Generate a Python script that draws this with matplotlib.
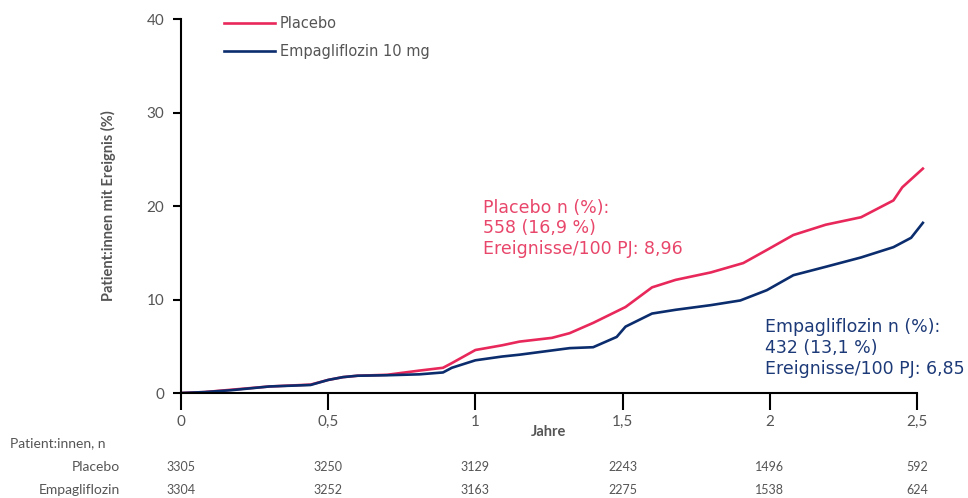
import matplotlib
matplotlib.use('Agg')
import matplotlib.pyplot as plt
import matplotlib.transforms as mtransforms

plt.rcParams['font.family'] = ['Lato', 'DejaVu Sans']

# Kaplan-Meier Verlauf
jahre_placebo = [0, 0.08, 0.17, 0.30, 0.44, 0.50, 0.55, 0.60, 0.70, 0.81, 0.89, 0.92, 1.0, 1.09,
                 1.15, 1.26, 1.32, 1.40, 1.51, 1.60, 1.68, 1.80, 1.91, 1.99, 2.08, 2.19, 2.31,
                 2.42, 2.45, 2.52]
placebo = [0, 0.1, 0.35, 0.7, 0.9, 1.4, 1.7, 1.85, 1.95, 2.4, 2.7, 3.2, 4.6, 5.1,
           5.5, 5.9, 6.4, 7.5, 9.2, 11.3, 12.1, 12.9, 13.9, 15.3, 16.9, 18.0, 18.8,
           20.6, 22.0, 24.0]
jahre_empa = [0, 0.08, 0.17, 0.30, 0.44, 0.50, 0.55, 0.60, 0.70, 0.81, 0.89, 0.92, 1.0, 1.09,
              1.15, 1.32, 1.40, 1.48, 1.51, 1.60, 1.68, 1.80, 1.90, 1.99, 2.08, 2.19, 2.31,
              2.42, 2.48, 2.52]
empa = [0, 0.1, 0.3, 0.7, 0.86, 1.4, 1.7, 1.85, 1.9, 2.0, 2.2, 2.7, 3.5, 3.9,
        4.1, 4.8, 4.9, 6.0, 7.1, 8.5, 8.9, 9.4, 9.9, 11.0, 12.6, 13.5, 14.5,
        15.6, 16.6, 18.2]

# Patient:innen unter Risiko
risk_x = [0, 0.5, 1, 1.5, 2, 2.5]
risk_placebo = [3305, 3250, 3129, 2243, 1496, 592]
risk_empa = [3304, 3252, 3163, 2275, 1538, 624]

xticks = [0, 0.5, 1, 1.5, 2, 2.5]
xtick_labels = ['0', '0,5', '1', '1,5', '2', '2,5']
yticks = [0, 10, 20, 30, 40]

pink = '#E8285A'
navy = '#0B2D6E'
grau = '#555555'
wide = ['DejaVu Sans']

fig = plt.figure(figsize=(9.68, 4.98), dpi=100)
ax = fig.add_axes([0.187, 0.2108, 0.7755, 0.751])

ax.plot(jahre_placebo, placebo, color=pink, lw=1.9, label='Placebo')
ax.plot(jahre_empa, empa, color=navy, lw=1.9, label='Empagliflozin 10 mg')

ax.set_xlim(0, 2.55)
ax.set_ylim(0, 40)
for s in ['top', 'right']:
    ax.spines[s].set_visible(False)
ax.spines['bottom'].set_bounds(0, 2.5)
ax.spines['left'].set_linewidth(1.5)
ax.spines['bottom'].set_linewidth(1.5)

ax.set_xticks(xticks)
ax.set_xticklabels(xtick_labels)
ax.set_yticks(yticks)
ax.tick_params(axis='x', length=12, width=1.5, direction='out', pad=4, colors='black',
               labelcolor=grau, labelsize=11)
ax.tick_params(axis='y', length=6, width=1.5, pad=6, labelcolor=grau, labelsize=11)

ax.set_xlabel('Jahre', fontsize=10.5, fontweight='bold', color=grau)
ax.xaxis.set_label_coords(0.49, -0.085)
ax.set_ylabel('Patient:innen mit Ereignis (%)', fontsize=10.5, fontweight='bold',
              color=grau, labelpad=22)

leg = ax.legend(loc='upper left', bbox_to_anchor=(0.218, 0.995), bbox_transform=fig.transFigure,
                frameon=False, prop={'family': wide, 'size': 10.5}, handlelength=3.5,
                handletextpad=0.3, labelspacing=0.95)
for t in leg.get_texts():
    t.set_color(grau)

ax.text(1.026, 20.8, 'Placebo n (%):\n558 (16,9 %)\nEreignisse/100 PJ: 8,96',
        color='#E8466A', fontsize=12.5, family=wide, va='top', ha='left', linespacing=1.2)
ax.text(1.984, 8.0, 'Empagliflozin n (%):\n432 (13,1 %)\nEreignisse/100 PJ: 6,85',
        color='#1D3A78', fontsize=12.5, family=wide, va='top', ha='left', linespacing=1.2)

# Tabelle unter der Grafik
trans = mtransforms.blended_transform_factory(ax.transData, fig.transFigure)
fig.text(10 / 968, 1 - 443 / 498, 'Patient:innen, n', fontsize=10, color=grau,
         va='center', ha='left')
fig.text(120 / 968, 1 - 467 / 498, 'Placebo', fontsize=10, color=grau, va='center', ha='right')
fig.text(120 / 968, 1 - 490 / 498, 'Empagliflozin', fontsize=10, color=grau,
         va='center', ha='right')
for x, p, e in zip(risk_x, risk_placebo, risk_empa):
    ax.text(x, 1 - 467 / 498, str(p), transform=trans, fontsize=9, color=grau,
            ha='center', va='center')
    ax.text(x, 1 - 490 / 498, str(e), transform=trans, fontsize=9, color=grau,
            ha='center', va='center')

fig.savefig('out.png', dpi=100)
